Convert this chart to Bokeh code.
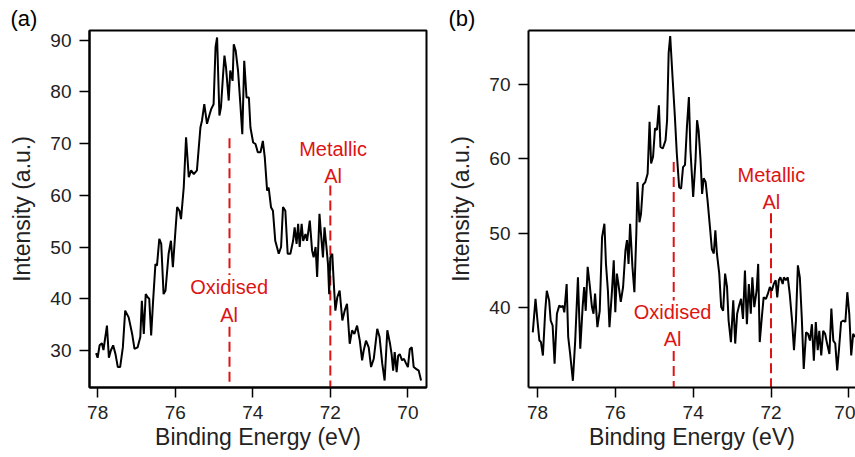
from bokeh.plotting import figure
from bokeh.layouts import row
from bokeh.models import Range1d, LinearAxis, FixedTicker
from bokeh.core.properties import value
from bokeh.embed import file_html
from bokeh.resources import INLINE

# ---------------- data ----------------
energy_a = [78.04, 78.00, 77.95, 77.89, 77.85, 77.76, 77.71, 77.66, 77.60, 77.54,
            77.48, 77.42, 77.35, 77.29, 77.20, 77.11, 77.05, 76.97, 76.90, 76.86,
            76.81, 76.76, 76.71, 76.67, 76.62, 76.57, 76.51, 76.47, 76.41, 76.36,
            76.30, 76.25, 76.17, 76.11, 76.06, 76.00, 75.95, 75.89, 75.85, 75.78,
            75.72, 75.65, 75.59, 75.52, 75.44, 75.35, 75.31, 75.25, 75.18, 75.11,
            75.07, 75.01, 74.96, 74.92, 74.86, 74.82, 74.77, 74.73, 74.69, 74.62,
            74.58, 74.52, 74.49, 74.44, 74.38, 74.32, 74.27, 74.22, 74.16, 74.10,
            74.06, 73.99, 73.93, 73.87, 73.80, 73.74, 73.69, 73.63, 73.59, 73.53,
            73.48, 73.42, 73.33, 73.27, 73.22, 73.16, 73.10, 73.03, 72.96, 72.92,
            72.87, 72.83, 72.79, 72.74, 72.70, 72.64, 72.60, 72.53, 72.47, 72.43,
            72.38, 72.34, 72.28, 72.24, 72.19, 72.15, 72.10, 72.06, 72.03, 72.00,
            71.95, 71.91, 71.87, 71.82, 71.76, 71.69, 71.63, 71.57, 71.50, 71.44,
            71.38, 71.31, 71.24, 71.18, 71.14, 71.08, 71.01, 70.95, 70.88, 70.79,
            70.73, 70.66, 70.60, 70.53, 70.46, 70.42, 70.38, 70.34, 70.29, 70.25,
            70.21, 70.15, 70.10, 70.06, 70.00, 69.95, 69.90, 69.85, 69.78, 69.72,
            69.66]
intensity_a = [29.5, 28.6, 31.0, 31.4, 30.1, 34.8, 28.6, 30.0, 31.0, 29.3,
               26.8, 26.8, 30.6, 37.7, 36.4, 33.2, 30.3, 30.6, 32.6, 39.6,
               33.2, 40.9, 40.3, 40.0, 32.9, 39.6, 46.7, 46.4, 51.6, 50.6,
               40.9, 41.6, 48.7, 51.2, 46.1, 52.5, 57.7, 57.0, 55.4, 61.5,
               71.2, 63.5, 64.8, 64.1, 64.8, 73.1, 74.4, 77.6, 73.8, 75.7,
               76.7, 77.6, 88.6, 90.5, 75.4, 77.0, 82.8, 87.0, 84.7, 78.3,
               84.1, 82.1, 89.2, 87.9, 84.1, 77.6, 71.8, 86.0, 78.9, 78.9,
               73.1, 70.2, 69.9, 68.3, 68.3, 70.5, 67.3, 60.9, 61.5, 57.7,
               57.0, 51.2, 48.7, 50.0, 57.7, 57.0, 48.7, 48.7, 51.2, 53.8,
               50.6, 54.5, 50.0, 54.5, 51.2, 52.5, 51.2, 55.1, 49.3, 48.0,
               50.0, 44.2, 56.4, 52.5, 48.0, 53.8, 50.0, 46.7, 40.9, 48.0,
               48.7, 42.9, 37.7, 40.3, 41.6, 35.8, 37.7, 39.0, 31.3, 33.9,
               33.2, 34.8, 31.9, 28.1, 30.0, 31.9, 30.6, 26.8, 28.4, 34.2,
               32.6, 27.4, 24.2, 33.9, 31.3, 29.3, 26.1, 29.7, 25.8, 29.0,
               29.3, 28.1, 28.4, 27.7, 26.8, 30.3, 30.6, 26.8, 26.4, 26.1,
               24.2]

energy_b = [78.12, 78.05, 78.00, 77.95, 77.91, 77.86, 77.80, 77.76, 77.70, 77.66,
            77.61, 77.56, 77.50, 77.44, 77.39, 77.35, 77.31, 77.25, 77.21, 77.16,
            77.09, 77.03, 76.96, 76.90, 76.84, 76.80, 76.76, 76.71, 76.66, 76.60,
            76.56, 76.52, 76.46, 76.40, 76.34, 76.28, 76.24, 76.19, 76.15, 76.09,
            76.04, 76.00, 75.96, 75.92, 75.86, 75.80, 75.74, 75.70, 75.66, 75.62,
            75.56, 75.51, 75.46, 75.43, 75.38, 75.34, 75.29, 75.23, 75.17, 75.12,
            75.08, 75.03, 74.98, 74.93, 74.88, 74.84, 74.78, 74.71, 74.67, 74.63,
            74.59, 74.53, 74.47, 74.42, 74.36, 74.31, 74.26, 74.21, 74.16, 74.11,
            74.07, 74.00, 73.94, 73.90, 73.86, 73.81, 73.77, 73.73, 73.68, 73.63,
            73.57, 73.52, 73.47, 73.43, 73.39, 73.33, 73.28, 73.23, 73.18, 73.13,
            73.09, 73.03, 72.97, 72.92, 72.87, 72.82, 72.77, 72.72, 72.67, 72.62,
            72.57, 72.52, 72.48, 72.43, 72.37, 72.33, 72.29, 72.24, 72.19, 72.13,
            72.08, 72.03, 71.98, 71.93, 71.88, 71.84, 71.80, 71.76, 71.70, 71.67,
            71.62, 71.57, 71.52, 71.46, 71.41, 71.36, 71.31, 71.26, 71.21, 71.16,
            71.10, 71.05, 71.00, 70.95, 70.90, 70.85, 70.80, 70.76, 70.71, 70.66,
            70.61, 70.56, 70.50, 70.45, 70.40, 70.35, 70.30, 70.25, 70.20, 70.14,
            70.09, 70.04, 69.99, 69.94, 69.89, 69.84]
intensity_b = [36.7, 41.2, 38.3, 35.6, 35.4, 33.6, 39.6, 42.3, 41.0, 38.3,
               37.6, 32.5, 39.2, 40.3, 40.1, 40.3, 39.4, 43.2, 36.1, 33.8,
               30.2, 35.6, 44.1, 34.5, 40.1, 42.8, 39.6, 45.5, 43.2, 40.1,
               39.2, 41.9, 37.4, 39.6, 49.5, 51.3, 45.9, 42.3, 37.4, 41.9,
               46.4, 39.4, 44.6, 43.2, 40.8, 42.8, 47.7, 49.1, 45.9, 51.3,
               45.5, 42.1, 50.0, 56.9, 51.5, 52.6, 56.5, 56.9, 58.0, 65.0,
               59.4, 60.3, 64.1, 63.9, 67.2, 61.6, 61.4, 62.5, 65.2, 74.2,
               76.5, 71.0, 65.7, 60.7, 56.2, 56.0, 58.9, 59.2, 64.3, 68.3,
               61.2, 54.9, 59.8, 65.2, 63.8, 59.8, 55.3, 57.4, 56.9, 54.4,
               50.9, 47.9, 47.3, 50.4, 47.3, 44.6, 40.1, 39.6, 44.6, 42.8,
               38.3, 35.4, 41.0, 35.2, 39.2, 40.3, 41.2, 38.5, 45.0, 37.8,
               43.2, 39.2, 44.1, 40.1, 42.3, 45.9, 35.4, 38.5, 41.4, 41.2,
               41.9, 42.8, 42.3, 43.2, 43.7, 41.4, 43.7, 44.1, 43.2, 44.1,
               43.7, 44.1, 41.9, 38.3, 34.3, 38.3, 45.7, 44.1, 38.7, 31.8,
               36.7, 36.5, 35.6, 37.8, 32.9, 38.1, 34.3, 36.9, 33.6, 36.9,
               36.5, 35.2, 33.8, 39.9, 35.6, 35.2, 31.6, 34.7, 38.1, 38.3,
               38.1, 42.1, 39.2, 33.6, 36.5, 36.1]

x_ticks = [78, 76, 74, 72, 70]
y_ticks_a = [30, 40, 50, 60, 70, 80, 90]
y_ticks_b = [40, 50, 60, 70]

FONT = "Liberation Sans"
RED = "#dd1414"
TXT = "#222222"


def style(p, yticks, letter, letter_offset):
    p.xgrid.visible = False
    p.ygrid.visible = False
    p.background_fill_color = "white"
    p.border_fill_color = "white"
    for ax in (p.xaxis[0], p.yaxis[0]):
        ax.axis_line_color = "black"
        ax.axis_line_width = 2
        ax.major_tick_line_color = "black"
        ax.major_tick_line_width = 1.5
        ax.major_tick_in = 0
        ax.major_tick_out = 10
        ax.minor_tick_line_color = None
        ax.major_label_text_font = FONT
        ax.major_label_text_font_size = "19px"
        ax.major_label_text_color = TXT
        ax.major_label_standoff = 8
        ax.axis_label_text_font = FONT
        ax.axis_label_text_font_size = "23px"
        ax.axis_label_text_font_style = "normal"
        ax.axis_label_text_color = TXT
    p.xaxis[0].ticker = FixedTicker(ticks=x_ticks)
    p.yaxis[0].ticker = FixedTicker(ticks=yticks)
    p.xaxis[0].axis_label = "Binding Energy (eV)"
    p.yaxis[0].axis_label = "Intensity (a.u.)"
    p.xaxis[0].axis_label_standoff = 2
    p.yaxis[0].axis_label_standoff = 12
    # panel letter as a left-aligned title, pulled left over the y axis
    p.title.text = letter
    p.title.align = "left"
    p.title.offset = letter_offset
    p.title.standoff = 0
    p.title.text_font = FONT
    p.title.text_font_size = "22px"
    p.title.text_font_style = "normal"
    p.title.text_color = "black"
    p.title.vertical_align = "bottom"


def marker(p, x, y_top, y_bot, gap=None):
    if gap is None:
        p.segment(x0=[x], y0=[y_top], x1=[x], y1=[y_bot], line_color=RED,
                  line_width=2, line_dash="10 5")
    else:
        p.segment(x0=[x, x], y0=[y_top, gap[1]], x1=[x, x], y1=[gap[0], y_bot],
                  line_color=RED, line_width=2, line_dash="10 5")


def note(p, x, y, txt):
    p.text(x=[x], y=[y], text=[txt], text_align="center", text_baseline="middle",
           text_font=value(FONT), text_font_size="20px", text_color=RED,
           text_line_height=1.25)


# ---------------- panel (a) ----------------
pa = figure(width=440, height=457, x_range=Range1d(78.21, 69.52),
            y_range=Range1d(22.85, 91.84), output_backend="svg",
            toolbar_location=None, min_border_left=89, min_border_right=14,
            min_border_top=30, min_border_bottom=70)
style(pa, y_ticks_a, "(a)", -79)
pa.outline_line_color = "black"
pa.outline_line_width = 2
pa.outline_line_alpha = 1.0
marker(pa, 74.6, 71.0, 22.85, gap=(44.6, 34.6))
marker(pa, 72.0, 61.9, 22.85)
pa.line(energy_a, intensity_a, line_color="black", line_width=2)
note(pa, 74.61, 39.6, "Oxidised\nAl")
note(pa, 71.93, 66.3, "Metallic\nAl")

# ---------------- panel (b) ----------------
pb = figure(width=415, height=457, x_range=Range1d(78.23, 69.83),
            y_range=Range1d(29.3, 77.25), output_backend="svg",
            toolbar_location=None, min_border_left=88, min_border_right=0,
            min_border_top=30, min_border_bottom=70)
style(pb, y_ticks_b, "(b)", -80)
pb.outline_line_alpha = 0
top_axis = LinearAxis(ticker=FixedTicker(ticks=[]), major_label_text_font_size="0px",
                      axis_line_color="black", axis_line_width=2,
                      major_tick_line_color=None, minor_tick_line_color=None)
pb.add_layout(top_axis, "above")
marker(pb, 74.5, 59.6, 29.3, gap=(41.0, 34.2))
marker(pb, 72.0, 52.7, 29.3)
pb.line(energy_b, intensity_b, line_color="black", line_width=2)
note(pb, 74.53, 37.6, "Oxidised\nAl")
note(pb, 71.99, 56.0, "Metallic\nAl")

layout = row(pa, pb)
open("out.html", "w").write(file_html(layout, INLINE))
